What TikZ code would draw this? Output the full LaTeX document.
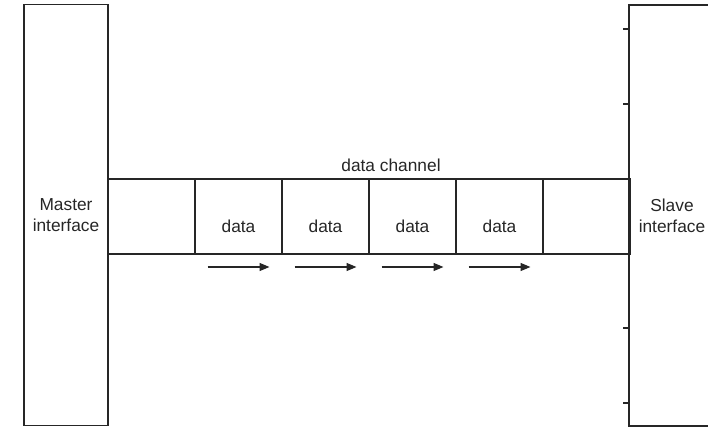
\documentclass[tikz,border=0pt]{standalone}
\usepackage{fontspec}
\setmainfont{Liberation Sans}
\usetikzlibrary{positioning, arrows.meta}

\tikzset{
  ink/.style={black!85},
  iface/.style={draw=black!85, line width=1.3pt, inner sep=0pt, outer sep=0pt,
    minimum height=315.75pt, align=center, text=black!85},
  cell/.style={draw=black!85, line width=1pt, inner sep=0pt, outer sep=0pt,
    minimum width=65.25pt, minimum height=56.25pt},
  flow/.style={draw=black!85, line width=1pt, -{Triangle[length=7.5pt, width=6pt]}}
}

\begin{document}
\begin{tikzpicture}[x=0.75pt, y=-0.75pt, font=\fontsize{13}{15.5}\selectfont]
  \useasboundingbox (0,0) rectangle (708,428);
  % the two interfaces
  \node[iface, minimum width=63pt] (master) at (66,215) {Master\\interface};
  \node[iface, minimum width=64.5pt] (slave) at (672,215.5) {Slave\\interface};
  \foreach \y in {29,104,328,403}
    \draw[ink, line width=1.3pt] (623,\y) -- (629,\y);
  % channel
  \node[cell, anchor=north west] (c1) at (108,179) {};
  \foreach \i [remember=\i as \j (initially 1)] in {2,...,6}
    \node[cell, right=0pt of c\j] (c\i) {};
  \node[ink, above=2pt of c4.north west, xshift=16.5pt] (lbl) {data channel};
  % data and arrows
  \foreach \i in {2,...,5} {
    \node[ink] (d\i) at ([yshift=-7.5pt]c\i.center) {data};
    \coordinate (s\i) at ([shift={(-31,13)}]c\i.south);
    \coordinate (e\i) at ([shift={(31,13)}]c\i.south);
    \draw[flow] (s\i) -- (e\i);
  }
\end{tikzpicture}
\end{document}
